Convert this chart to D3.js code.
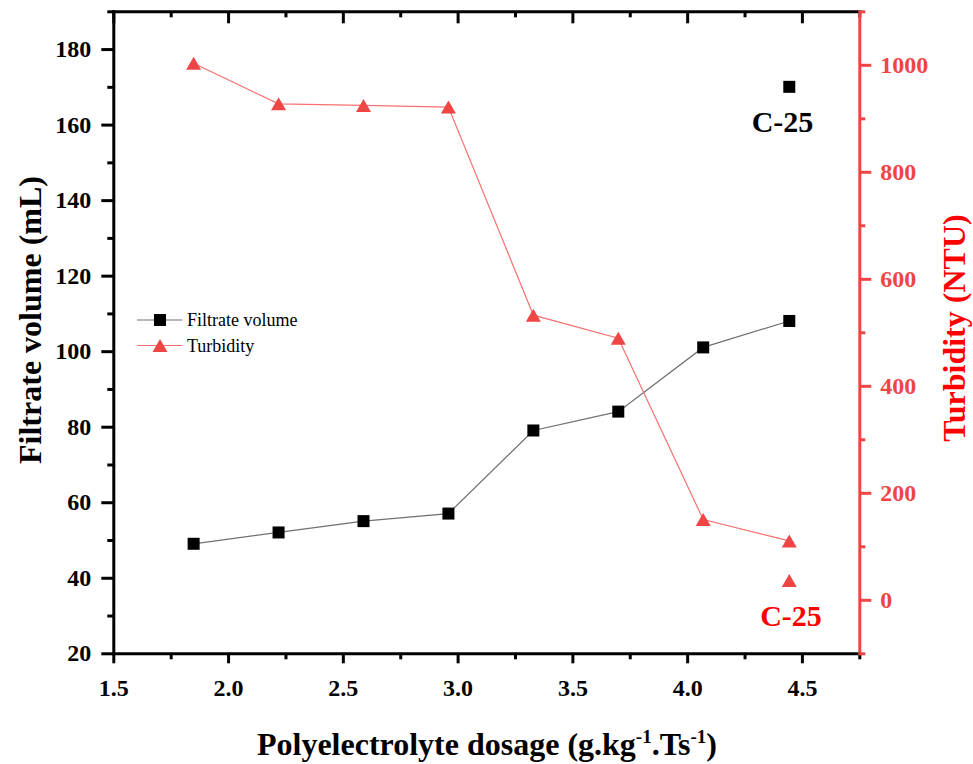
<!DOCTYPE html>
<html><head><meta charset="utf-8">
<script src="https://cdn.jsdelivr.net/npm/d3@7"></script>
<style>body{margin:0;background:#fff}</style>
</head><body><svg id="chart" width="973" height="764"></svg>
<script>
// ---- data ----
const dosage = [1.85, 2.22, 2.59, 2.96, 3.33, 3.70, 4.07, 4.445];
const filtrateVolume = [49, 52, 55, 57, 79, 84, 101, 108];
const turbidity = [1003, 927, 924, 921, 532, 489, 150, 110];
const controlLabel = "C-25";
const controlDosage = [4.445];
const controlVolume = [170];
const controlTurbidity = [36];
const xMajorTicks = [1.5, 2.0, 2.5, 3.0, 3.5, 4.0, 4.5];
const xMinorTicks = [1.75, 2.25, 2.75, 3.25, 3.75, 4.25, 4.75];
const yLeftMajorTicks = [20, 40, 60, 80, 100, 120, 140, 160, 180];
const yLeftMinorTicks = [30, 50, 70, 90, 110, 130, 150, 170, 190];
const yRightMajorTicks = [0, 200, 400, 600, 800, 1000];
const yRightMinorTicks = [-100, 100, 300, 500, 700, 900, 1100];
const seriesNames = ["Filtrate volume", "Turbidity"];

// ---- layout ----
const L = 113.3, R = 859.3, T = 11.3, B = 653.3;
const RED = "#f04545", RED2 = "#ff0000";
const FONT = "'Liberation Serif','Times New Roman',serif";

const svg = d3.select("#chart");
const x = d3.scaleLinear().domain([1.5, 4.75]).range([L, R]);
const yL = d3.scaleLinear().domain([20, 190]).range([B, T]);
const yR = d3.scaleLinear().domain([-100, 1100]).range([B, T]);

function styleAxis(g, color, sw) {
  g.selectAll("path.domain").attr("stroke", color).attr("stroke-width", sw).attr("stroke-linecap", "square");
  g.selectAll(".tick line").attr("stroke", color).attr("stroke-width", sw);
  g.selectAll(".tick text").attr("fill", color).attr("font-family", FONT)
    .attr("font-weight", "bold").attr("font-size", 24);
}

// bottom axis
const gb = svg.append("g").attr("transform", `translate(0,${B})`);
gb.call(d3.axisBottom(x).tickValues(xMajorTicks).tickSize(10).tickPadding(16).tickSizeOuter(0).tickFormat(d3.format(".1f")));
gb.append("g").call(d3.axisBottom(x).tickValues(xMinorTicks).tickSize(6).tickSizeOuter(0).tickFormat(""))
  .select("path.domain").remove();
styleAxis(gb, "#000", 3);

// top axis (inward ticks)
const gt = svg.append("g").attr("transform", `translate(0,${T})`);
gt.call(d3.axisTop(x).tickValues(xMajorTicks).tickSize(-12).tickSizeOuter(0).tickFormat(""));
gt.append("g").call(d3.axisTop(x).tickValues(xMinorTicks).tickSize(-6).tickSizeOuter(0).tickFormat(""))
  .select("path.domain").remove();
styleAxis(gt, "#000", 3);

// left axis
const gl = svg.append("g").attr("transform", `translate(${L},0)`);
gl.call(d3.axisLeft(yL).tickValues(yLeftMajorTicks).tickSize(12).tickPadding(10).tickSizeOuter(0).tickFormat(d3.format("d")));
gl.append("g").call(d3.axisLeft(yL).tickValues(yLeftMinorTicks).tickSize(6).tickSizeOuter(0).tickFormat(""))
  .select("path.domain").remove();
styleAxis(gl, "#000", 3);

// right axis (red)
const gr = svg.append("g").attr("transform", `translate(${R},0)`);
gr.call(d3.axisRight(yR).tickValues(yRightMajorTicks).tickSize(12).tickPadding(9).tickSizeOuter(0).tickFormat(d3.format("d")));
gr.append("g").call(d3.axisRight(yR).tickValues(yRightMinorTicks).tickSize(6).tickSizeOuter(0).tickFormat(""))
  .select("path.domain").remove();
styleAxis(gr, RED, 3);

// ---- series ----
const volPts = dosage.map((d, i) => [d, filtrateVolume[i]]);
const turPts = dosage.map((d, i) => [d, turbidity[i]]);

svg.append("path").datum(volPts)
  .attr("d", d3.line().x(d => x(d[0])).y(d => yL(d[1])))
  .attr("fill", "none").attr("stroke", "#707070").attr("stroke-width", 1.2);
svg.append("path").datum(turPts)
  .attr("d", d3.line().x(d => x(d[0])).y(d => yR(d[1])))
  .attr("fill", "none").attr("stroke", "#f77070").attr("stroke-width", 1.2);

const SQ = 12;
function tri(cx, cy) {
  const w = 15, h = 13;
  return `M${cx},${cy - h / 2}L${cx + w / 2},${cy + h / 2}L${cx - w / 2},${cy + h / 2}Z`;
}
svg.append("g").selectAll("rect").data(volPts).join("rect")
  .attr("x", d => x(d[0]) - SQ / 2).attr("y", d => yL(d[1]) - SQ / 2)
  .attr("width", SQ).attr("height", SQ).attr("fill", "#000");
svg.append("g").selectAll("path").data(turPts).join("path")
  .attr("d", d => tri(x(d[0]), yR(d[1]))).attr("fill", RED);

// control points
svg.append("g").selectAll("rect").data(controlDosage.map((d, i) => [d, controlVolume[i]])).join("rect")
  .attr("x", d => x(d[0]) - SQ / 2).attr("y", d => yL(d[1]) - SQ / 2)
  .attr("width", SQ).attr("height", SQ).attr("fill", "#000");
svg.append("g").selectAll("path").data(controlDosage.map((d, i) => [d, controlTurbidity[i]])).join("path")
  .attr("d", d => tri(x(d[0]), yR(d[1]))).attr("fill", RED);

svg.append("text").attr("x", 782.5).attr("y", 131.5).attr("text-anchor", "middle")
  .attr("font-family", FONT).attr("font-weight", "bold").attr("font-size", 30).attr("fill", "#000")
  .text(controlLabel);
svg.append("text").attr("x", 791).attr("y", 626).attr("text-anchor", "middle")
  .attr("font-family", FONT).attr("font-weight", "bold").attr("font-size", 30).attr("fill", RED2)
  .text(controlLabel);

// ---- legend ----
const lg = svg.append("g");
[0, 1].forEach(i => {
  const cy = 320 + i * 25.5;
  lg.append("line").attr("x1", 137).attr("x2", 182.5).attr("y1", cy).attr("y2", cy)
    .attr("stroke", i === 0 ? "#707070" : "#f77070").attr("stroke-width", 1.2);
  if (i === 0) lg.append("rect").attr("x", 160 - SQ / 2).attr("y", cy - SQ / 2).attr("width", SQ).attr("height", SQ).attr("fill", "#000");
  else lg.append("path").attr("d", tri(160, cy)).attr("fill", RED);
  lg.append("text").attr("x", 187).attr("y", cy).attr("dy", "0.35em")
    .attr("font-family", FONT).attr("font-size", 18).attr("fill", "#000").text(seriesNames[i]);
});

// ---- axis titles ----
const xt = svg.append("text").attr("x", 487).attr("y", 755).attr("text-anchor", "middle")
  .attr("font-family", FONT).attr("font-weight", "bold").attr("font-size", 32).attr("fill", "#000");
xt.append("tspan").text("Polyelectrolyte dosage (g.kg");
xt.append("tspan").attr("font-size", 19).attr("dy", -12).text("-1");
xt.append("tspan").attr("dy", 12).text(".Ts");
xt.append("tspan").attr("font-size", 19).attr("dy", -12).text("-1");
xt.append("tspan").attr("dy", 12).text(")");

svg.append("text").attr("transform", "translate(41,320) rotate(-90)").attr("text-anchor", "middle")
  .attr("font-family", FONT).attr("font-weight", "bold").attr("font-size", 32).attr("fill", "#000")
  .text("Filtrate volume (mL)");
svg.append("text").attr("transform", "translate(965,328) rotate(-90)").attr("text-anchor", "middle")
  .attr("font-family", FONT).attr("font-weight", "bold").attr("font-size", 32).attr("fill", RED2)
  .text("Turbidity (NTU)");
</script></body></html>
